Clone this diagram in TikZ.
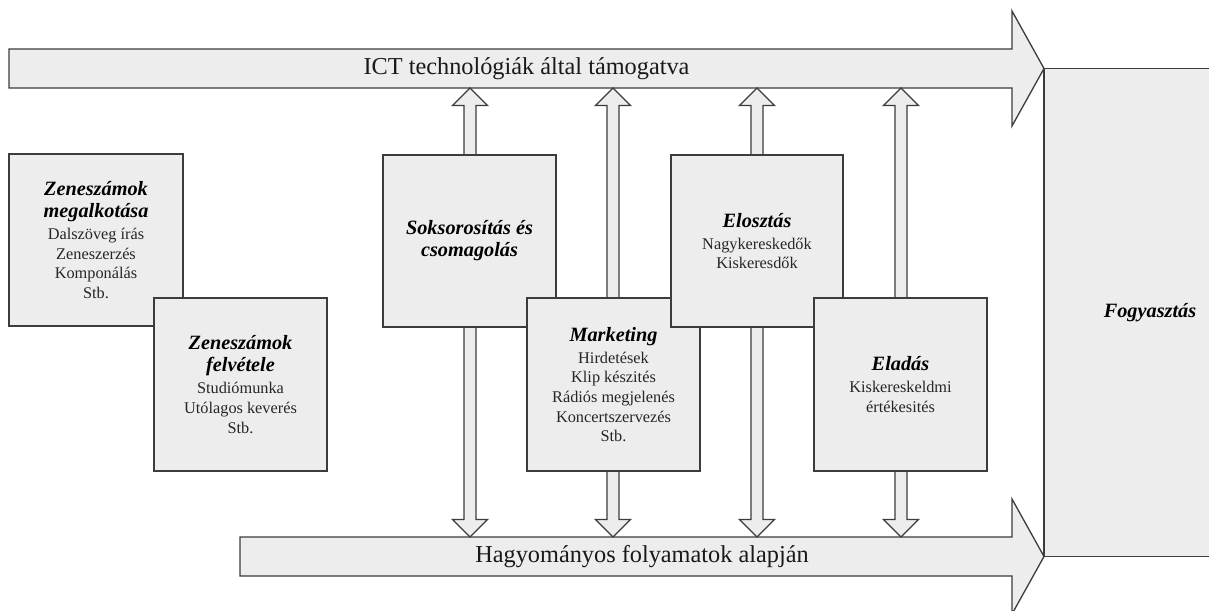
\documentclass[tikz,border=0pt]{standalone}
\usepackage{fontspec}
\setmainfont{Liberation Serif}
\usetikzlibrary{calc}
\definecolor{boxfill}{HTML}{EDEDED}
\definecolor{boxline}{HTML}{3C3C3C}
\newcommand{\hdg}[1]{{\fontsize{20.3}{22}\selectfont\bfseries\itshape\color{black}#1}}
\newcommand{\vdbl}[2]{%
  \draw[vdblarrow] (#1) -- ++(17.5,17.5) -- ++(-11.5,0) -- ($(#2)+(6,-17.5)$) -- ++(11.5,0) -- (#2)
    -- ++(-17.5,-17.5) -- ++(11.5,0) -- ($(#1)+(-6,17.5)$) -- ++(-11.5,0) -- cycle;}
\begin{document}
\begin{tikzpicture}[x=1pt,y=-1pt,
  box/.style={draw=boxline, fill=boxfill, line width=1.3pt, minimum width=173pt, minimum height=172pt,
    inner sep=0pt, align=center, font=\fontsize{16.3}{19.6}\selectfont, text=black!85},
  bigarrow/.style={draw=boxline, fill=boxfill, line width=1.3pt, line join=miter, miter limit=10},
  arrowlabel/.style={font=\fontsize{24.3}{28}\selectfont, inner sep=0pt, text=black!90},
  vdblarrow/.style={draw=boxline, fill=boxfill, line width=1.1pt, line join=miter, miter limit=10}]
\useasboundingbox (0,0) rectangle (1209,610);

% big horizontal arrows
\draw[bigarrow] (9,49) -- (1012,49) -- (1012,11) -- (1044,68.5) -- (1012,126) -- (1012,88) -- (9,88) -- cycle;
\node[arrowlabel] (ict) at (526.5,68.5) {ICT technológiák által támogatva};
\draw[bigarrow] (240,537) -- (1012,537) -- (1012,499) -- (1044,556.5) -- (1012,614) -- (1012,576) -- (240,576) -- cycle;
\node[arrowlabel] (hag) at (642,556.5) {Hagyományos folyamatok alapján};

% attachment points of the vertical double arrows
\foreach \n/\x in {a/470,b/613,c/757,d/901}{
  \coordinate (up\n) at (\x,88);
  \coordinate (dn\n) at (\x,537);
}
\vdbl{upa}{dna}
\vdbl{upb}{dnb}
\vdbl{upc}{dnc}
\vdbl{upd}{dnd}

% process boxes
\node[box, minimum width=174pt] (alkot) at (96,240)
  {\hdg{Zeneszámok}\\[2.4pt]\hdg{megalkotása}\\[2.4pt]Dalszöveg írás\\Zeneszerzés\\Komponálás\\Stb.};
\node[box, minimum height=173pt] (felv) at (240.5,384.5)
  {\hdg{Zeneszámok}\\[2.4pt]\hdg{felvétele}\\[2.4pt]Studiómunka\\Utólagos keverés\\Stb.};
\node[box] (sokso) at (469.5,241)
  {\hdg{Soksorosítás és}\\[2.4pt]\hdg{csomagolás}};
\node[box, minimum height=173pt] (mark) at (613.5,384.5)
  {\hdg{Marketing}\\[2.4pt]Hirdetések\\Klip készités\\Rádiós megjelenés\\Koncertszervezés\\Stb.};
\node[box, minimum width=172pt] (elosz) at (757,241)
  {\hdg{Elosztás}\\[2.4pt]Nagykereskedők\\Kiskeresdők};
\node[box, minimum height=173pt] (elad) at (900.5,384.5)
  {\hdg{Eladás}\\[2.4pt]Kiskereskeldmi\\értékesités};

% consumption
\node[box, minimum width=212pt, minimum height=488pt] (fogy) at (1150,312.25)
  {\hdg{Fogyasztás}};
\end{tikzpicture}
\end{document}
